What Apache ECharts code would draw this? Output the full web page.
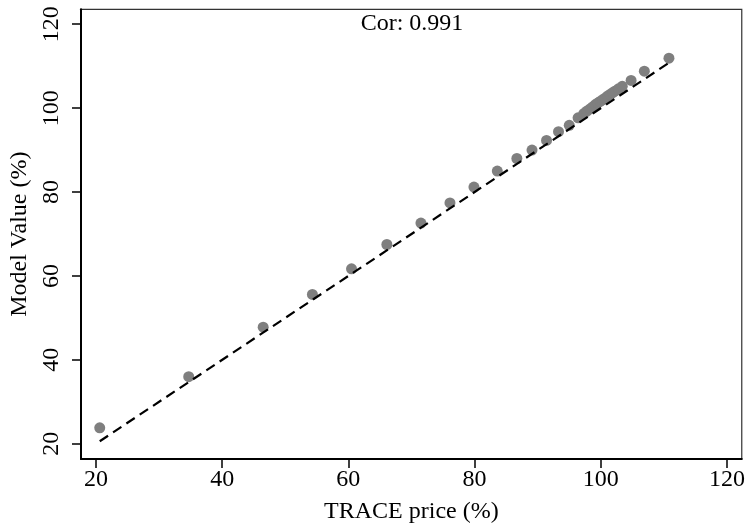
<!DOCTYPE html>
<html>
<head>
<meta charset="utf-8">
<script src="https://cdn.jsdelivr.net/npm/echarts@6/dist/echarts.min.js"></script>
<style>html,body{margin:0;padding:0;background:#fff}#c{width:748px;height:529px}</style>
</head>
<body>
<div id="c"></div>
<script>
const tracePrice = [20.6, 34.7, 46.5, 54.3, 60.5, 66.1, 71.5, 76.1, 79.9, 83.6, 86.7, 89.1, 91.4, 93.3, 95.0, 96.4,
  97.3, 97.8, 98.3, 98.7, 99.1, 99.5, 99.9, 100.3, 100.7, 101.1, 101.5, 101.9, 102.3, 102.8, 103.4, 104.8, 106.9, 110.8];
const modelValue = [23.8, 36.0, 47.8, 55.6, 61.7, 67.5, 72.6, 77.4, 81.2, 85.0, 88.0, 90.0, 92.3, 94.4, 95.9, 97.7,
  98.7, 99.3, 99.8, 100.3, 100.8, 101.2, 101.6, 102.0, 102.4, 102.9, 103.3, 103.7, 104.1, 104.6, 105.2, 106.6, 108.8, 111.9];
const refLine = [[20.6, 20.6], [110.7, 110.7]];
const xTicks = [20, 40, 60, 80, 100, 120];
const yTicks = [20, 40, 60, 80, 100, 120];
const corText = 'Cor: 0.991';
const xTitle = 'TRACE price (%)';
const yTitle = 'Model Value (%)';

const FONT = 'Liberation Serif';
const chart = echarts.init(document.getElementById('c'), null, {renderer: 'canvas'});
chart.setOption({
  animation: false,
  backgroundColor: '#fff',
  grid: {left: 81, right: 4.5, top: 9.3, bottom: 67.7, show: true, borderColor: '#333', borderWidth: 1.2, containLabel: false},
  xAxis: {
    type: 'value', min: 17.63, max: 122.34,
    name: xTitle, nameLocation: 'middle', nameGap: 41,
    nameTextStyle: {fontFamily: FONT, fontSize: 24, color: '#000'},
    axisLine: {show: true, lineStyle: {color: '#000', width: 2}},
    axisTick: {show: true, length: 9, inside: false, customValues: xTicks, lineStyle: {color: '#000', width: 1.5}},
    axisLabel: {customValues: xTicks, fontFamily: FONT, fontSize: 24, color: '#000', margin: 9},
    splitLine: {show: false}
  },
  yAxis: {
    type: 'value', min: 16.37, max: 123.56,
    name: yTitle, nameLocation: 'middle', nameGap: 47, nameRotate: 90,
    nameTextStyle: {fontFamily: FONT, fontSize: 24, color: '#000'},
    axisLine: {show: true, lineStyle: {color: '#000', width: 2}},
    axisTick: {show: true, length: 9, inside: false, customValues: yTicks, lineStyle: {color: '#000', width: 1.5}},
    axisLabel: {customValues: yTicks, rotate: 90, fontFamily: FONT, fontSize: 24, color: '#000', margin: 17},
    splitLine: {show: false}
  },
  graphic: [{
    type: 'text', x: 412, y: 24, z: 100,
    style: {text: corText, fill: '#000', font: '24px "Liberation Serif"', textAlign: 'center', textVerticalAlign: 'middle'}
  }],
  series: [
    {
      type: 'scatter', symbol: 'circle', symbolSize: 11, z: 2,
      itemStyle: {color: '#7f7f7f', opacity: 1},
      data: tracePrice.map((x, i) => [x, modelValue[i]])
    },
    {
      type: 'line', data: refLine, symbol: 'none', z: 3, silent: true,
      lineStyle: {color: '#000', width: 2.2, type: [10, 6]}
    }
  ]
});
</script>
</body>
</html>
